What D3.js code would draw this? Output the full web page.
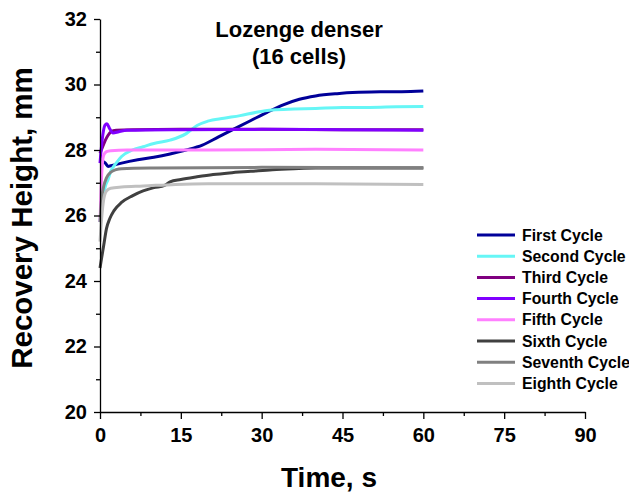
<!DOCTYPE html>
<html>
<head>
<meta charset="utf-8">
<script src="https://cdn.jsdelivr.net/npm/d3@7"></script>
<style>
  body { margin: 0; background: #fff; }
  text { font-family: Arial, "Liberation Sans", sans-serif; font-weight: bold; fill: #000; }
</style>
</head>
<body>
<div class="board"></div>
<script>
// recovery height curves, [time s, height mm]
var firstCycle = [[0,27.7],[0.5,27.65],[1,27.6],[1.5,27.5],[2,27.52],[4,27.6],[7,27.7],[10,27.78],[13,27.88],[16,28.0],[19,28.15],[22,28.4],[25,28.65],[28,28.9],[31,29.15],[34,29.38],[37,29.55],[40,29.65],[44,29.72],[48,29.76],[52,29.78],[56,29.78],[60,29.8]];
var secondCycle = [[0,25.8],[0.5,26.5],[1,26.9],[1.5,27.1],[2,27.35],[3,27.6],[4,27.8],[6,28.0],[8,28.1],[10,28.2],[13,28.3],[16,28.5],[18,28.75],[20,28.88],[23,28.97],[26,29.05],[29,29.15],[32,29.22],[36,29.25],[40,29.27],[45,29.3],[50,29.3],[55,29.32],[60,29.33]];
var thirdCycle = [[0,27.9],[0.5,28.1],[1,28.3],[1.5,28.45],[2,28.55],[3,28.6],[6,28.62],[15,28.63],[30,28.63],[45,28.62],[60,28.62]];
var fourthCycle = [[0,27.6],[0.4,28.3],[0.9,28.75],[1.3,28.8],[1.8,28.65],[2.4,28.52],[3.5,28.56],[5,28.6],[15,28.62],[30,28.63],[45,28.62],[60,28.6]];
var fifthCycle = [[0,25.8],[0.2,26.8],[0.4,27.5],[0.7,27.85],[1.2,27.95],[2,27.98],[5,28.0],[20,28.0],[40,28.02],[60,28.0]];
var sixthCycle = [[0,24.4],[0.3,24.7],[0.7,25.1],[1.2,25.6],[1.8,25.9],[2.6,26.15],[4,26.4],[6,26.6],[8,26.75],[10,26.85],[12,26.92],[13,27.03],[15,27.1],[18,27.18],[21,27.25],[24,27.3],[28,27.35],[32,27.4],[36,27.43],[40,27.45],[50,27.45],[60,27.45]];
var seventhCycle = [[0,25.8],[0.3,26.5],[0.7,26.9],[1.2,27.15],[2,27.32],[3,27.4],[4,27.43],[10,27.45],[30,27.47],[60,27.46]];
var eighthCycle = [[0,25.2],[0.3,25.9],[0.7,26.5],[1.2,26.75],[2,26.83],[4,26.87],[8,26.9],[14,26.95],[20,26.97],[40,26.97],[60,26.95]];

var seriesNames = ['First Cycle', 'Second Cycle', 'Third Cycle', 'Fourth Cycle', 'Fifth Cycle', 'Sixth Cycle', 'Seventh Cycle', 'Eighth Cycle'];
var seriesColors = ['#000099', '#66f6f6', '#800080', '#8000ff', '#ff80ff', '#404040', '#808080', '#c0c0c0'];
var allSeries = [firstCycle, secondCycle, thirdCycle, fourthCycle, fifthCycle, sixthCycle, seventhCycle, eighthCycle];

var xTicks = [0, 15, 30, 45, 60, 75, 90];
var xMinorTicks = [7.5, 22.5, 37.5, 52.5, 67.5, 82.5];
var yTicks = [20, 22, 24, 26, 28, 30, 32];
var yMinorTicks = [21, 23, 25, 27, 29, 31];

var width = 629;
var height = 496;

var svg = d3.select('.board').append('svg')
  .attr('width', width)
  .attr('height', height);

var x = d3.scaleLinear().domain([0, 90]).range([100, 585]);
var y = d3.scaleLinear().domain([20, 32]).range([412, 19]);

// curves
var line = d3.line()
  .x(function(d) { return x(d[0]); })
  .y(function(d) { return y(d[1]); })
  .curve(d3.curveMonotoneX);

svg.selectAll('path.cycle').data(allSeries)
  .enter().append('path')
  .attr('class', 'cycle')
  .attr('fill', 'none')
  .attr('stroke', function(d, i) { return seriesColors[i]; })
  .attr('stroke-width', 3)
  .attr('d', line);

// axes
svg.append('g')
  .attr('transform', 'translate(0,412)')
  .call(d3.axisBottom(x).tickValues(xTicks).tickSize(7).tickPadding(9).tickSizeOuter(0));
svg.append('g')
  .attr('transform', 'translate(0,412)')
  .call(d3.axisBottom(x).tickValues(xMinorTicks).tickSize(4).tickFormat('').tickSizeOuter(0))
  .select('.domain').remove();

svg.append('g')
  .attr('transform', 'translate(100,0)')
  .call(d3.axisLeft(y).tickValues(yTicks).tickSize(6).tickPadding(7).tickSizeOuter(0));
svg.append('g')
  .attr('transform', 'translate(100,0)')
  .call(d3.axisLeft(y).tickValues(yMinorTicks).tickSize(4).tickFormat('').tickSizeOuter(0))
  .select('.domain').remove();

svg.selectAll('.domain, .tick line').attr('stroke', '#000').attr('stroke-width', 1.3);
svg.selectAll('.tick text')
  .style('font-family', 'Arial, "Liberation Sans", sans-serif')
  .style('font-weight', 'bold')
  .style('font-size', '20px')
  .attr('fill', '#000');

// axis titles
svg.append('text')
  .attr('x', 329).attr('y', 487)
  .attr('text-anchor', 'middle')
  .style('font-size', '28px')
  .text('Time, s');

svg.append('text')
  .attr('transform', 'translate(32,218) rotate(-90)')
  .attr('text-anchor', 'middle')
  .style('font-size', '29.5px')
  .text('Recovery Height, mm');

// title
svg.append('text')
  .attr('x', 299).attr('y', 37)
  .attr('text-anchor', 'middle')
  .style('font-size', '22px')
  .text('Lozenge denser');
svg.append('text')
  .attr('x', 299).attr('y', 64)
  .attr('text-anchor', 'middle')
  .style('font-size', '22px')
  .text('(16 cells)');

// legend
var legend = svg.selectAll('g.legend').data(seriesNames)
  .enter().append('g')
  .attr('class', 'legend')
  .attr('transform', function(d, i) { return 'translate(477,' + (235 + i * 21.2) + ')'; });

legend.append('line')
  .attr('x1', 0).attr('x2', 38)
  .attr('stroke', function(d, i) { return seriesColors[i]; })
  .attr('stroke-width', 3);

legend.append('text')
  .attr('x', 45).attr('y', 5.5)
  .style('font-size', '15.8px')
  .text(function(d) { return d; });
</script>
</body>
</html>
